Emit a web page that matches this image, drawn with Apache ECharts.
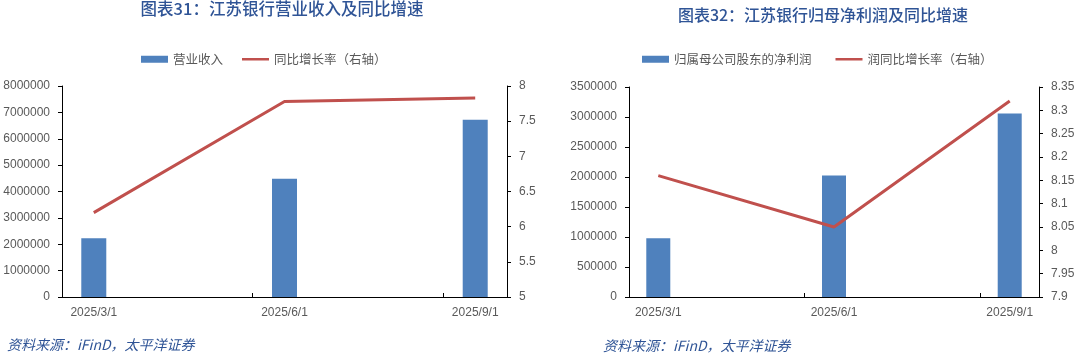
<!DOCTYPE html>
<html>
<head>
<meta charset="utf-8">
<script src="https://cdn.jsdelivr.net/npm/echarts@6/dist/echarts.min.js"></script>
<style>
html,body{margin:0;padding:0;background:#fff;}
#c{width:1080px;height:354px;}
</style>
</head>
<body>
<div id="c"></div>
<script>
// Month slots of the date axis (bars sit on 3/1, 6/1, 9/1)
var months = ["2025/3/1","2025/4/1","2025/5/1","2025/6/1","2025/7/1","2025/8/1","2025/9/1"];
// Chart 31: revenue (万元) and YoY growth (%)
var revenue = [2230000, null, null, 4486400, null, null, 6718000];
var revenueYoY = [6.20, null, null, 7.78, null, null, 7.83];
// Chart 32: net profit attributable to parent (万元) and YoY growth (%)
var netProfit = [977500, null, null, 2023800, null, null, 3058300];
var netProfitYoY = [8.16, null, null, 8.05, null, null, 8.32];

var leftTicks1 = {min: 0, max: 8000000, interval: 1000000};
var rightTicks1 = {min: 5, max: 8, interval: 0.5};
var leftTicks2 = {min: 0, max: 3500000, interval: 500000};
var rightTicks2 = {min: 7.9, max: 8.35, interval: 0.05};

var titles = ["图表31：江苏银行营业收入及同比增速", "图表32：江苏银行归母净利润及同比增速"];
var names1 = ["营业收入", "同比增长率（右轴）"];
var names2 = ["归属母公司股东的净利润", "润同比增长率（右轴）"];
var source = "资料来源：iFinD，太平洋证券";

var BLUE = "#4F81BD", RED = "#C0504D", GRAY = "#595959", TITLE = "#2F5496";
var numFont = "Liberation Sans, Arial, sans-serif";
var cjkFont = "Noto Sans CJK SC, sans-serif";
var LINE_ICON = "path://M0,0L27,0L27,0Z M0,2.2L27,2.2L27,4.8L0,4.8Z M0,7L27,7L27,7Z";

function xAxis(grid) {
  return {
    type: "category", gridIndex: grid, data: months, boundaryGap: true,
    axisLine: {lineStyle: {color: "#000", width: 1}},
    axisTick: {show: true, inside: true, length: 4, lineStyle: {color: "#000"},
      interval: function (i) { return i === 3 || i === 6; }},
    axisLabel: {color: GRAY, fontSize: 12, fontFamily: numFont, margin: 10,
      interval: function (i) { return i % 3 === 0; }},
    splitLine: {show: false}
  };
}
function yAxis(grid, t, pos, fmt) {
  return {
    type: "value", gridIndex: grid, position: pos, min: t.min, max: t.max, interval: t.interval,
    axisLine: {show: true, lineStyle: {color: "#000", width: 1}},
    axisTick: {show: true, length: 4, lineStyle: {color: "#000"}},
    axisLabel: {color: GRAY, fontSize: 12, fontFamily: numFont, margin: 12, formatter: fmt},
    splitLine: {show: false}
  };
}
function fmtPlain(v) { return String(Math.round(v * 100) / 100); }

var chart = echarts.init(document.getElementById("c"));
chart.setOption({
  animation: false,
  backgroundColor: "#fff",
  grid: [
    {left: 62, right: 573, top: 86, bottom: 57, outerBoundsMode: "none", containLabel: false},
    {left: 629, right: 41, top: 87, bottom: 57, outerBoundsMode: "none", containLabel: false}
  ],
  legend: [
    {left: 136, top: 48, itemWidth: 27, itemHeight: 7, itemGap: 19,
      textStyle: {color: GRAY, fontSize: 12.5, fontFamily: cjkFont},
      data: [{name: names1[0], icon: "rect"}, {name: names1[1], icon: LINE_ICON}]},
    {left: 637, top: 48, itemWidth: 27, itemHeight: 7, itemGap: 24,
      textStyle: {color: GRAY, fontSize: 12.5, fontFamily: cjkFont},
      data: [{name: names2[0], icon: "rect"}, {name: names2[1], icon: LINE_ICON}]}
  ],
  xAxis: [xAxis(0), xAxis(1)],
  yAxis: [
    yAxis(0, leftTicks1, "left", fmtPlain),
    yAxis(0, rightTicks1, "right", fmtPlain),
    yAxis(1, leftTicks2, "left", fmtPlain),
    yAxis(1, rightTicks2, "right", fmtPlain)
  ],
  series: [
    {name: names1[0], type: "bar", xAxisIndex: 0, yAxisIndex: 0, data: revenue, barWidth: 25,
      itemStyle: {color: BLUE}},
    {name: names1[1], type: "line", xAxisIndex: 0, yAxisIndex: 1, data: revenueYoY, connectNulls: true,
      symbol: "none", lineStyle: {color: RED, width: 3}, itemStyle: {color: RED}},
    {name: names2[0], type: "bar", xAxisIndex: 1, yAxisIndex: 2, data: netProfit, barWidth: 24,
      itemStyle: {color: BLUE}},
    {name: names2[1], type: "line", xAxisIndex: 1, yAxisIndex: 3, data: netProfitYoY, connectNulls: true,
      symbol: "none", lineStyle: {color: RED, width: 3}, itemStyle: {color: RED}}
  ],
  graphic: [
    {type: "text", x: 282, y: 9, style: {text: titles[0], fill: TITLE, font: "500 16.5px " + cjkFont,
      textAlign: "center", textVerticalAlign: "middle"}},
    {type: "text", x: 823, y: 15, style: {text: titles[1], fill: TITLE, font: "500 16px " + cjkFont,
      textAlign: "center", textVerticalAlign: "middle"}},
    {type: "text", x: 7, y: 345, style: {text: source, fill: TITLE, font: "italic 14px " + cjkFont,
      textAlign: "left", textVerticalAlign: "middle"}},
    {type: "text", x: 603, y: 346, style: {text: source, fill: TITLE, font: "italic 14px " + cjkFont,
      textAlign: "left", textVerticalAlign: "middle"}}
  ]
});
</script>
</body>
</html>
